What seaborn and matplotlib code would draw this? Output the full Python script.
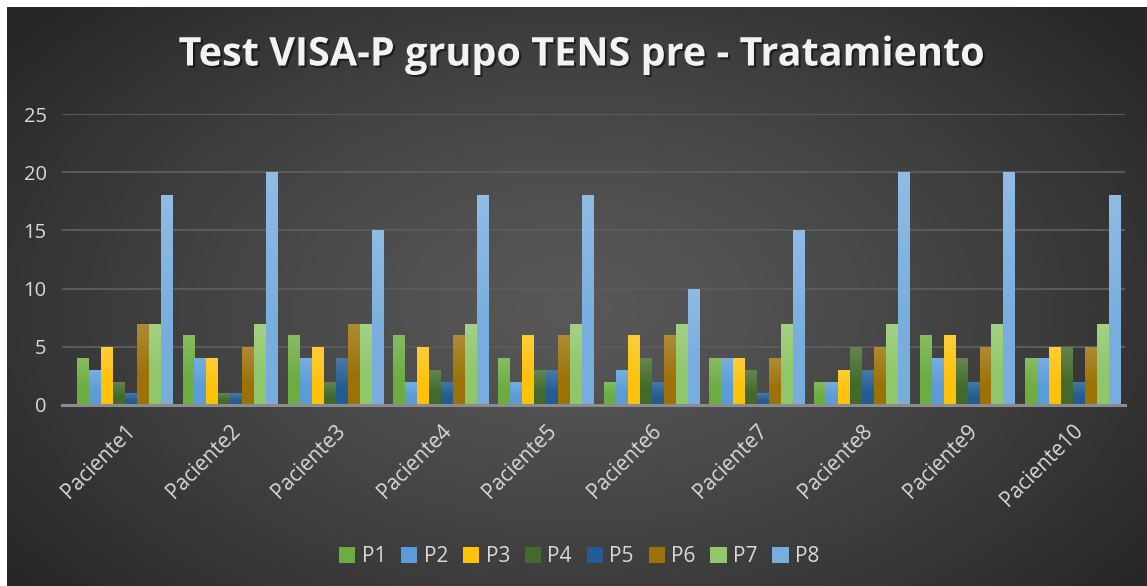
import numpy as np
import pandas as pd
import matplotlib
matplotlib.use("Agg")
import matplotlib.pyplot as plt
import matplotlib.patheffects as pe
from matplotlib.patches import Patch
from matplotlib.colors import to_rgb
import seaborn as sns

# ---- data ----
pacientes = [f"Paciente{i}" for i in range(1, 11)]
preguntas = ["P1", "P2", "P3", "P4", "P5", "P6", "P7", "P8"]
P1 = [4, 6, 6, 6, 4, 2, 4, 2, 6, 4]
P2 = [3, 4, 4, 2, 2, 3, 4, 2, 4, 4]
P3 = [5, 4, 5, 5, 6, 6, 4, 3, 6, 5]
P4 = [2, 1, 2, 3, 3, 4, 3, 5, 4, 5]
P5 = [1, 1, 4, 2, 3, 2, 1, 3, 2, 2]
P6 = [7, 5, 7, 6, 6, 6, 4, 5, 5, 5]
P7 = [7, 7, 7, 7, 7, 7, 7, 7, 7, 7]
P8 = [18, 20, 15, 18, 18, 10, 15, 20, 20, 18]
yticks = [0, 5, 10, 15, 20, 25]
title = "Test VISA-P grupo TENS pre - Tratamiento"

series = {"P1": P1, "P2": P2, "P3": P3, "P4": P4,
          "P5": P5, "P6": P6, "P7": P7, "P8": P8}
rows = []
for q in preguntas:
    for pac, v in zip(pacientes, series[q]):
        rows.append({"Paciente": pac, "Pregunta": q, "Valor": v})
df = pd.DataFrame(rows)

colors = ["#6CAD40", "#5A9CD8", "#FFC20A", "#426A2A",
          "#225C92", "#9C7208", "#8FC76A", "#78ADDE"]

W, H = 1147, 586
fig = plt.figure(figsize=(W / 100, H / 100), dpi=100)
fig.patch.set_facecolor("white")

# background radial gradient
bg = fig.add_axes([7 / W, 0, (W - 7) / W, (H - 7) / H])
bg.set_axis_off()
yy, xx = np.mgrid[0:1:300j, 0:1:600j]
r = np.sqrt(((xx - 0.5) / 0.62) ** 2 + ((yy - 0.48) / 0.75) ** 2)
r = np.clip(r, 0, 1)
val = 0.345 - (0.345 - 0.155) * r ** 1.3
img = np.dstack([val, val, val])
bg.imshow(img, aspect="auto", extent=[0, 1, 0, 1], origin="lower")
bg.set_xlim(0, 1)
bg.set_ylim(0, 1)

sns.set_style("dark")
plt.rcParams["font.family"] = ["Open Sans", "DejaVu Sans"]

left, right = 62 / W, 1125 / W
bottom = 1 - 405 / H
top = 1 - 114 / H
ax = fig.add_axes([left, bottom, right - left, top - bottom])
ax.set_facecolor("none")

sns.barplot(data=df, x="Paciente", y="Valor", hue="Pregunta",
            palette=colors, width=0.91, gap=0.08, ax=ax,
            legend=False, errorbar=None, saturation=1,
            edgecolor="none", zorder=3)

# subtle vertical gradient on each bar (lighter at top), clipped to the bar
for p in list(ax.patches):
    c = np.array(to_rgb(p.get_facecolor()))
    light = c + (1 - c) * 0.18
    t = np.linspace(0, 1, 64)[:, None]          # 0 bottom -> 1 top
    w = np.clip((t - 0.35) / 0.65, 0, 1)
    grad = c[None, :] * (1 - w) + light[None, :] * w
    grad = grad[:, None, :]
    x0, y0 = p.get_x(), p.get_y()
    im = ax.imshow(grad, extent=[x0, x0 + p.get_width(), y0, y0 + p.get_height()],
                   origin="lower", aspect="auto", zorder=3.5, interpolation="bilinear")
    im.set_clip_path(p)

ax.set_xlim(-0.595, 9.5)
ax.set_ylim(0, 25)
ax.set_yticks(yticks)
ax.yaxis.grid(True, color="#5a5a5a", linewidth=1.5, zorder=0)
ax.xaxis.grid(False)
ax.set_axisbelow(True)
for s in ["top", "right", "left"]:
    ax.spines[s].set_visible(False)
ax.spines["bottom"].set_color("#8c8c8c")
ax.spines["bottom"].set_linewidth(2.2)
ax.spines["bottom"].set_zorder(4)
ax.set_xlabel("")
ax.set_ylabel("")
ax.tick_params(axis="x", length=0, colors="#D9D9D9", labelsize=15, pad=11)
ax.tick_params(axis="y", length=0, colors="#D9D9D9", labelsize=14.5, pad=11)
for lab in ax.get_xticklabels():
    lab.set_rotation(45)
    lab.set_ha("right")
    lab.set_va("top")
    lab.set_rotation_mode("anchor")
    lab.set_color("#D9D9D9")
for lab in ax.get_yticklabels():
    lab.set_color("#D9D9D9")

fig.text(0.507, 1 - 55 / H, title, ha="center", va="center",
         fontsize=28.5, fontweight="bold", color="#F2F2F2",
         path_effects=[pe.withSimplePatchShadow(offset=(1.5, -1.5),
                                                shadow_rgbFace="black", alpha=0.5)])

handles = [Patch(facecolor=c, edgecolor="none", label=q)
           for c, q in zip(colors, preguntas)]
leg = fig.legend(handles=handles, loc="center", ncol=8,
                 bbox_to_anchor=(0.505, 1 - 557 / H), frameon=False,
                 fontsize=15, handlelength=0.8, handleheight=0.8,
                 handletextpad=0.3, columnspacing=0.7)
for t in leg.get_texts():
    t.set_color("#D9D9D9")

fig.savefig("out.png", dpi=100)
